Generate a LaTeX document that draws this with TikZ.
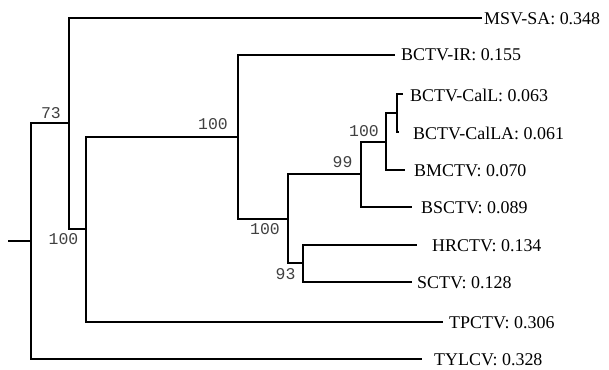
\documentclass[tikz,border=0pt]{standalone}
\usepackage{fontspec}
\setmainfont{Liberation Serif}
\newfontfamily\bsfont{Liberation Mono}
\begin{document}
\begin{tikzpicture}[x=1bp,y=-1bp,
  branch/.style={line width=2bp,line join=miter},
  taxon/.style={anchor=west,inner sep=0pt,text depth=0pt,font=\fontsize{18}{20}\selectfont},
  boot/.style={anchor=center,inner sep=0pt,text height=7.5pt,text depth=0pt,text=black!75,font=\bsfont\fontsize{16.5}{18}\selectfont}]
\useasboundingbox (0,0) rectangle (609,369);
% internal nodes (position on incoming branch)
\coordinate (stub) at (8,241);
\coordinate (R) at (31,241);
\coordinate (A) at (69,123);
\coordinate (B) at (86,229);
\coordinate (C) at (238,137);
\coordinate (D) at (288,219);
\coordinate (E) at (361,174);
\coordinate (F) at (386,142);
\coordinate (G) at (397,113);
\coordinate (H) at (303,263);
% tips
\coordinate (tMSV) at (482,18);
\coordinate (tIR) at (395,55);
\coordinate (tCalL) at (403,94);
\coordinate (tCalLA) at (399,132);
\coordinate (tBM) at (405,170);
\coordinate (tBS) at (412,207);
\coordinate (tHR) at (417,245);
\coordinate (tSC) at (412,282);
\coordinate (tTP) at (443,322);
\coordinate (tTY) at (422,359);
% branches
\draw[branch] (stub) -- (R);
\draw[branch] (R) |- (A);
\draw[branch] (R) |- (tTY);
\draw[branch] (A) |- (tMSV);
\draw[branch] (A) |- (B);
\draw[branch] (B) |- (C);
\draw[branch] (B) |- (tTP);
\draw[branch] (C) |- (tIR);
\draw[branch] (C) |- (D);
\draw[branch] (D) |- (E);
\draw[branch] (D) |- (H);
\draw[branch] (E) |- (F);
\draw[branch] (E) |- (tBS);
\draw[branch] (F) |- (G);
\draw[branch] (F) |- (tBM);
\draw[branch] (G) |- (tCalL);
\draw[branch] (G) |- (tCalLA);
\draw[branch] (H) |- (tHR);
\draw[branch] (H) |- (tSC);
% taxon labels
\node[taxon] (lMSV) at (484,19) {MSV-SA: 0.348};
\node[taxon] (lIR) at (401,55) {BCTV-IR: 0.155};
\node[taxon] (lCalL) at (410,95) {BCTV-CalL: 0.063};
\node[taxon] (lCalLA) at (413,133) {BCTV-CalLA: 0.061};
\node[taxon] (lBM) at (414,171) {BMCTV: 0.070};
\node[taxon] (lBS) at (421,208) {BSCTV: 0.089};
\node[taxon] (lHR) at (432,246) {HRCTV: 0.134};
\node[taxon] (lSC) at (417,283) {SCTV: 0.128};
\node[taxon] (lTP) at (449,323) {TPCTV: 0.306};
\node[taxon] (lTY) at (434,359.5) {TYLCV: 0.328};
% bootstrap values
\node[boot] (b73) at (51,115) {73};
\node[boot] (b100a) at (63.5,240.5) {100};
\node[boot] (b100b) at (213,125.5) {100};
\node[boot] (b100c) at (265,230.5) {100};
\node[boot] (b93) at (285.5,276) {93};
\node[boot] (b100d) at (364,132.5) {100};
\node[boot] (b99) at (342.5,163.5) {99};
\end{tikzpicture}
\end{document}
